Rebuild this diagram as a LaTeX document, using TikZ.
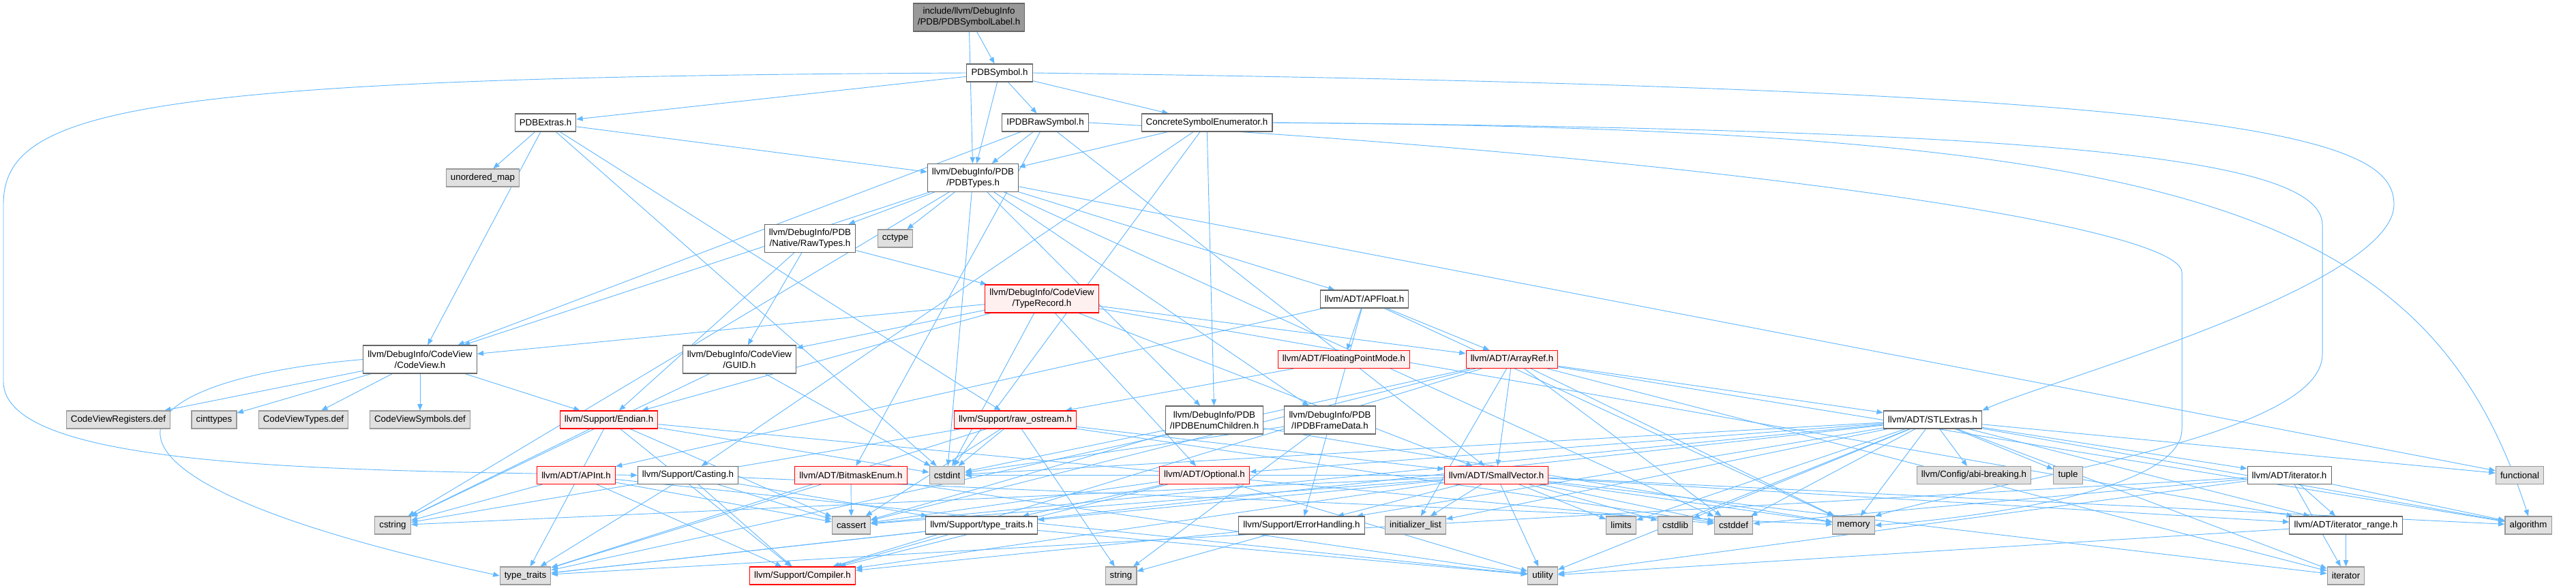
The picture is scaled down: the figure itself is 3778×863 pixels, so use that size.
\documentclass[tikz,border=0pt]{standalone}
\usepackage{fontspec}
\setmainfont{Liberation Sans}
\usepackage{xcolor}
\usetikzlibrary{arrows.meta,backgrounds}

\definecolor{edgeblue}{HTML}{63B8FF}
\definecolor{extfill}{HTML}{E0E0E0}
\definecolor{extline}{HTML}{999999}
\definecolor{hdrline}{HTML}{666666}
\definecolor{redfill}{HTML}{FFF0F0}
\definecolor{rootfill}{HTML}{999999}

\tikzset{
  hdr/.style={draw=hdrline, fill=white, line width=0.8pt, minimum height=19.5pt,
    inner xsep=5pt, inner ysep=2pt, font=\fontsize{10}{12}\selectfont, align=center},
  two/.style={minimum height=30.75pt},
  ext/.style={hdr, draw=extline, fill=extfill},
  trunc/.style={hdr, draw=red, fill=redfill},
  rootnode/.style={hdr, two, fill=rootfill},
  dep/.style={draw=edgeblue, line width=0.7pt, -{Triangle[length=7pt,width=5.5pt]}}
}

\begin{document}
\begin{tikzpicture}[x=0.75pt, y=-0.75pt]
  \useasboundingbox (0,0) rectangle (3778,863);
  % ------- top: the file and its direct includes -------
  \node[rootnode] (root) at (1421,25.5) {include/llvm/DebugInfo\\/PDB/PDBSymbolLabel.h};
  \node[hdr] (pdbsym) at (1466,107) {PDBSymbol.h};
  \node[hdr] (pdbextras) at (800,180) {PDBExtras.h};
  \node[hdr] (rawsym) at (1533,180) {IPDBRawSymbol.h};
  \node[hdr] (concrete) at (1770,180) {ConcreteSymbolEnumerator.h};
  \node[hdr, two] (pdbtypes) at (1427,261) {llvm/DebugInfo/PDB\\/PDBTypes.h};
  \node[ext] (umap) at (708,261) {unordered\_map};
  \node[hdr, two] (rawtypes) at (1188,350) {llvm/DebugInfo/PDB\\/Native/RawTypes.h};
  \node[ext] (cctype) at (1313,350) {cctype};
  \node[hdr] (apfloat) at (2001,439) {llvm/ADT/APFloat.h};
  \node[trunc, two] (typerec) at (1528,438.5) {llvm/DebugInfo/CodeView\\/TypeRecord.h};
  % ------- middle rows -------
  \node[hdr, two] (codeview) at (616,527.5) {llvm/DebugInfo/CodeView\\/CodeView.h};
  \node[hdr, two] (guid) at (1084.5,527.5) {llvm/DebugInfo/CodeView\\/GUID.h};
  \node[trunc] (fpmode) at (1971,527.5) {llvm/ADT/FloatingPointMode.h};
  \node[trunc] (arrayref) at (2217.5,527.5) {llvm/ADT/ArrayRef.h};
  \node[ext] (cvregs) at (173.5,616) {CodeViewRegisters.def};
  \node[ext] (cinttypes) at (314,616) {cinttypes};
  \node[ext] (cvtypes) at (445,616) {CodeViewTypes.def};
  \node[ext] (cvsyms) at (616,616) {CodeViewSymbols.def};
  \node[trunc] (endian) at (893,616) {llvm/Support/Endian.h};
  \node[trunc] (ostream) at (1489,616) {llvm/Support/raw\_ostream.h};
  \node[hdr, two] (enumchild) at (1781,616.5) {llvm/DebugInfo/PDB\\/IPDBEnumChildren.h};
  \node[hdr, two] (framedata) at (1950.5,616.5) {llvm/DebugInfo/PDB\\/IPDBFrameData.h};
  \node[hdr] (stlextras) at (2834.5,616) {llvm/ADT/STLExtras.h};
  \node[trunc] (apint) at (845,697.5) {llvm/ADT/APInt.h};
  \node[hdr] (casting) at (1009,697.5) {llvm/Support/Casting.h};
  \node[trunc] (bitmask) at (1248,697.5) {llvm/ADT/BitmaskEnum.h};
  \node[ext] (cstdint) at (1389,697.5) {cstdint};
  \node[trunc] (optional) at (1766.5,697.5) {llvm/ADT/Optional.h};
  \node[trunc] (smallvec) at (2194.5,697.5) {llvm/ADT/SmallVector.h};
  \node[ext] (abibreak) at (2895,697.5) {llvm/Config/abi-breaking.h};
  \node[ext] (tuple) at (3033,697.5) {tuple};
  \node[hdr] (iterh) at (3357.5,697.5) {llvm/ADT/iterator.h};
  \node[ext] (functional) at (3695.5,697.5) {functional};
  % ------- bottom rows -------
  \node[ext] (cstring) at (576,771) {cstring};
  \node[ext] (cassert) at (1248.5,771) {cassert};
  \node[hdr] (llvmtraits) at (1439.5,771) {llvm/Support/type\_traits.h};
  \node[hdr] (errhandling) at (1909,771) {llvm/Support/ErrorHandling.h};
  \node[ext] (initlist) at (2076,771) {initializer\_list};
  \node[ext] (limits) at (2377.5,771) {limits};
  \node[ext] (cstdlib) at (2457,771) {cstdlib};
  \node[ext] (cstddef) at (2542.5,771) {cstddef};
  \node[ext] (memory) at (2718.5,771) {memory};
  \node[hdr] (iterrange) at (3440.5,771) {llvm/ADT/iterator\_range.h};
  \node[ext] (algorithm) at (3708,771) {algorithm};
  \node[ext] (typetraits) at (770.5,845) {type\_traits};
  \node[trunc] (compiler) at (1177,845) {llvm/Support/Compiler.h};
  \node[ext] (string) at (1644,845) {string};
  \node[ext] (utility) at (2262.5,845) {utility};
  \node[ext] (iterator) at (3440.5,845) {iterator};

  \begin{pgfonlayer}{background}
    % includes, one loop per header
    \foreach \t in {pdbsym,pdbtypes} \draw[dep] (root) -- (\t);
    \foreach \t in {pdbextras,rawsym,concrete,pdbtypes} \draw[dep] (pdbsym) -- (\t);
    \draw[dep] (pdbsym.west) .. controls (200,113) and (5,160) .. (5,300)
      -- (5,560) .. controls (5,690) and (500,690) .. (casting.west);
    \draw[dep] (pdbsym.east) .. controls (3300,130) and (3511,200) .. (3511,300)
      .. controls (3511,420) and (3000,560) .. (stlextras.north east);
    \foreach \t in {umap,pdbtypes,codeview,ostream,cstdint} \draw[dep] (pdbextras) -- (\t);
    \foreach \t in {pdbtypes,codeview,smallvec,bitmask} \draw[dep] (rawsym) -- (\t);
    \draw[dep] (rawsym.east) .. controls (2500,230) and (3200,330) .. (3200,400)
      -- (3200,630) .. controls (3200,720) and (2900,760) .. (memory.east);
    \foreach \t in {pdbtypes,enumchild,casting,cstdint} \draw[dep] (concrete) -- (\t);
    \draw[dep] (concrete.east) .. controls (3000,190) and (3406,230) .. (3406,330)
      -- (3406,520) .. controls (3406,640) and (2950,700) .. (memory.north east);
    \draw[dep] (concrete.east) .. controls (3200,190) and (3560,300) .. (algorithm.north);
    \foreach \t in {rawtypes,cctype,cstdint,enumchild,framedata,apfloat,codeview,cstring,cstddef,functional}
      \draw[dep] (pdbtypes) -- (\t);
    \foreach \t in {guid,typerec,endian} \draw[dep] (rawtypes) -- (\t);
    \foreach \t in {codeview,guid,endian,cstdint,arrayref,optional,smallvec,iterrange}
      \draw[dep] (typerec) -- (\t);
    \foreach \t in {apint,arrayref,fpmode,errhandling,memory} \draw[dep] (apfloat) -- (\t);
    \draw[dep] (fpmode) -- (ostream);
    \foreach \t in {cvregs,cinttypes,cvtypes,cvsyms,endian} \draw[dep] (codeview) -- (\t);
    \draw[dep] (codeview.west) .. controls (150,560) and (60,700) .. (typetraits.west);
    \foreach \t in {cstdint,cstring} \draw[dep] (guid) -- (\t);
    \foreach \t in {smallvec,stlextras,initlist,cstddef,memory,algorithm,iterator,cassert,compiler,typetraits}
      \draw[dep] (arrayref) -- (\t);
    \foreach \t in {compiler,cassert,cstddef,cstdint,cstring,typetraits} \draw[dep] (endian) -- (\t);
    \foreach \t in {smallvec,cassert,cstddef,cstdint,cstring,string,typetraits} \draw[dep] (ostream) -- (\t);
    \foreach \t in {cassert,cstdint,memory} \draw[dep] (enumchild) -- (\t);
    \foreach \t in {cstdint,string} \draw[dep] (framedata) -- (\t);
    \foreach \t in {optional,iterh,iterrange,abibreak,tuple,errhandling,algorithm,cassert,cstddef,cstdint,cstdlib,functional,initlist,iterator,limits,memory,typetraits,utility}
      \draw[dep] (stlextras) -- (\t);
    \foreach \t in {cstring,compiler,cassert,utility} \draw[dep] (apint) -- (\t);
    \foreach \t in {compiler,llvmtraits,cassert,memory,typetraits} \draw[dep] (casting) -- (\t);
    \foreach \t in {cassert,typetraits,utility} \draw[dep] (bitmask) -- (\t);
    \foreach \t in {compiler,llvmtraits,cassert,utility} \draw[dep] (optional) -- (\t);
    \foreach \t in {compiler,errhandling,llvmtraits,initlist,limits,cstdlib,cstddef,memory,utility,algorithm,cassert,cstdint,cstring,iterator,iterrange}
      \draw[dep] (smallvec) -- (\t);
    \foreach \t in {iterrange,algorithm,cstddef,iterator,typetraits,utility} \draw[dep] (iterh) -- (\t);
    \foreach \t in {iterator,utility} \draw[dep] (iterrange) -- (\t);
    \foreach \t in {compiler,typetraits,utility} \draw[dep] (llvmtraits) -- (\t);
    \foreach \t in {compiler,string} \draw[dep] (errhandling) -- (\t);
  \end{pgfonlayer}
\end{tikzpicture}
\end{document}
